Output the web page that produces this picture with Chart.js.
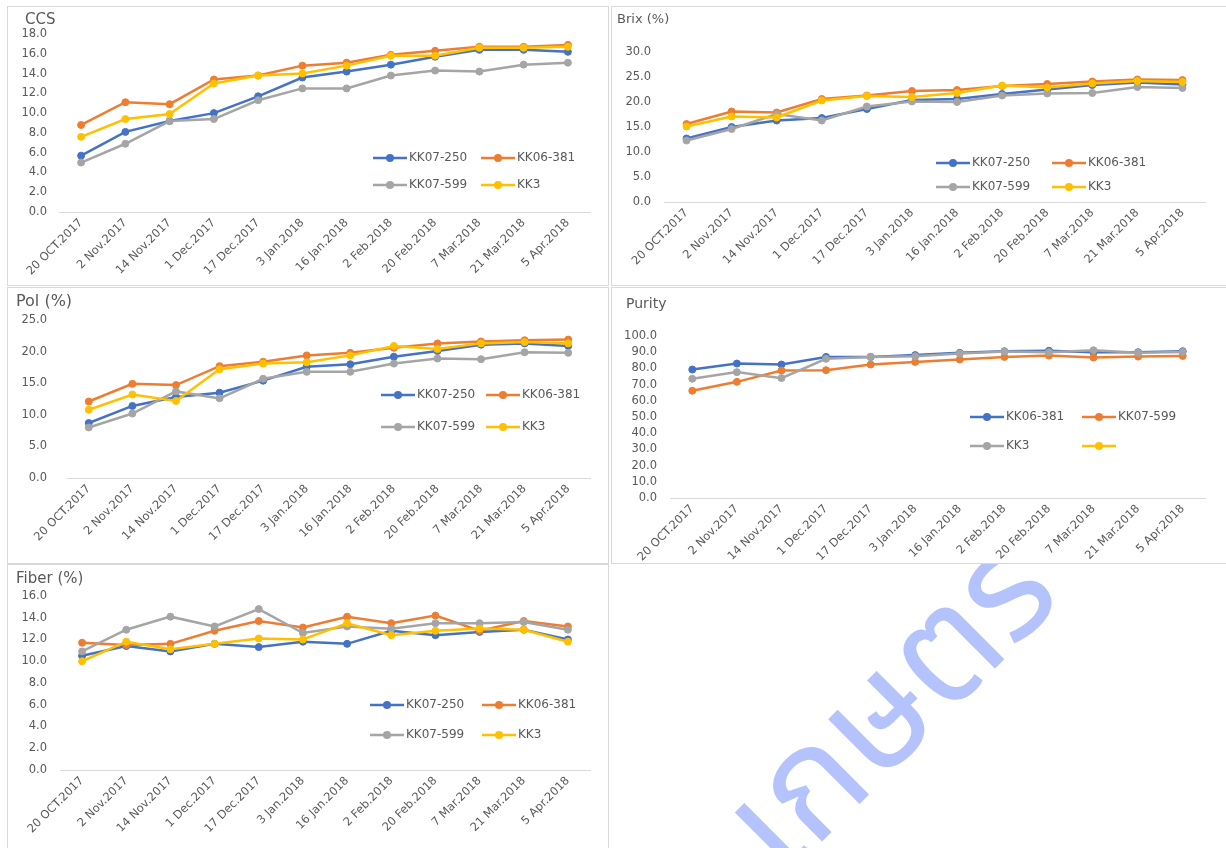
<!DOCTYPE html>
<html>
<head>
<meta charset="utf-8">
<script src="https://cdn.jsdelivr.net/npm/chart.js@4.4.0/dist/chart.umd.min.js"></script>
<style>
  body { margin: 0; width: 1226px; height: 848px; overflow: hidden; background: #fff; position: relative; font-family: 'DejaVu Sans', sans-serif; }
  .panel { position: absolute; border: 1px solid #d9d9d9; background: #fff; z-index: 1; overflow: hidden; }
  .panel canvas { position: absolute; left: 0; top: 0; }
  #mark { position: absolute; left: 892px; top: 708px; z-index: 0; color: #b4c3fb; font-size: 150px; line-height: 1;
          font-family: 'Noto Sans Thai', 'Noto Sans Thai UI', 'Sarabun', 'Prompt', 'Kanit', sans-serif;
          white-space: nowrap; transform: translate(-50%, -50%) rotate(-45deg); }
</style>
</head>
<body>
<div id="mark">เกษตร</div>
<div class="panel" style="left:7px;top:6px;width:600px;height:278px"><canvas id="ccs" width="600" height="278"></canvas></div>
<div class="panel" style="left:611px;top:6px;width:616px;height:278px"><canvas id="brix" width="614" height="278"></canvas></div>
<div class="panel" style="left:7px;top:287px;width:600px;height:275px"><canvas id="pol" width="600" height="275"></canvas></div>
<div class="panel" style="left:611px;top:287px;width:616px;height:275px"><canvas id="purity" width="614" height="275"></canvas></div>
<div class="panel" style="left:7px;top:564px;width:600px;height:290px"><canvas id="fiber" width="600" height="283"></canvas></div>
<script>
const dates = ['20 OCT.2017', '2 Nov.2017', '14 Nov.2017', '1 Dec.2017', '17 Dec.2017', '3 Jan.2018',
               '16 Jan.2018', '2 Feb.2018', '20 Feb.2018', '7 Mar.2018', '21 Mar.2018', '5 Apr.2018'];

// CCS
const ccs250 = [5.7, 8.1, 9.2, 10.0, 11.7, 13.6, 14.2, 14.9, 15.7, 16.4, 16.4, 16.2];
const ccs381 = [8.8, 11.1, 10.9, 13.4, 13.8, 14.8, 15.1, 15.9, 16.3, 16.7, 16.7, 16.9];
const ccs599 = [5.0, 6.9, 9.2, 9.4, 11.3, 12.5, 12.5, 13.8, 14.3, 14.2, 14.9, 15.1];
const ccsKK3 = [7.6, 9.4, 9.9, 13.0, 13.8, 14.0, 14.8, 15.8, 15.8, 16.6, 16.6, 16.7];

// Brix (%)
const brix250 = [12.7, 15.0, 16.3, 16.8, 18.6, 20.4, 20.6, 21.6, 22.5, 23.4, 23.9, 23.5];
const brix381 = [15.6, 18.1, 17.9, 20.6, 21.3, 22.2, 22.4, 23.2, 23.6, 24.1, 24.5, 24.4];
const brix599 = [12.3, 14.6, 17.6, 16.3, 19.1, 20.1, 20.0, 21.3, 21.7, 21.8, 23.0, 22.8];
const brixKK3 = [15.1, 17.1, 16.9, 20.3, 21.2, 21.0, 21.8, 23.3, 22.9, 23.7, 24.2, 24.0];

// Pol (%)
const pol250 = [8.7, 11.4, 12.8, 13.5, 15.4, 17.6, 18.0, 19.2, 20.1, 21.1, 21.3, 20.9];
const pol381 = [12.1, 14.9, 14.7, 17.7, 18.4, 19.4, 19.8, 20.6, 21.3, 21.6, 21.8, 21.9];
const pol599 = [8.0, 10.2, 13.7, 12.6, 15.7, 16.8, 16.8, 18.1, 18.9, 18.8, 19.9, 19.8];
const polKK3 = [10.8, 13.2, 12.2, 17.2, 18.1, 18.3, 19.4, 20.9, 20.4, 21.3, 21.5, 21.3];

// Purity (legend names as printed on the chart)
const purity381 = [79.3, 83.0, 82.4, 87.1, 87.1, 88.2, 89.6, 90.6, 90.9, 90.0, 90.0, 90.6];
const purity599 = [66.2, 71.7, 78.7, 78.9, 82.4, 84.0, 85.5, 87.1, 87.9, 86.7, 87.3, 87.7];
const purityKK3 = [73.6, 77.7, 74.0, 85.9, 87.1, 87.5, 89.2, 90.4, 90.0, 91.2, 89.6, 90.2];
const purityBlank = [];

// Fiber (%)
const fiber250 = [10.5, 11.4, 10.9, 11.6, 11.3, 11.8, 11.6, 12.8, 12.4, 12.7, 12.9, 12.0];
const fiber381 = [11.7, 11.5, 11.6, 12.8, 13.7, 13.1, 14.1, 13.5, 14.2, 12.8, 13.7, 13.2];
const fiber599 = [10.9, 12.9, 14.1, 13.2, 14.8, 12.6, 13.2, 13.0, 13.5, 13.5, 13.6, 12.9];
const fiberKK3 = [10.0, 11.8, 11.1, 11.6, 12.1, 12.0, 13.5, 12.4, 12.8, 13.0, 12.9, 11.8];

const BLUE = '#4472c4', ORANGE = '#ed7d31', GRAY = '#a5a5a5', GOLD = '#ffc000';
const TEXT = '#595959';

function series(label, data, color, order) {
    return {
        label: label,
        data: data,
        borderColor: color,
        backgroundColor: color,
        borderWidth: 2.5,
        pointRadius: 3.5,
        pointBackgroundColor: color,
        pointBorderColor: color,
        pointBorderWidth: 1,
        tension: 0,
        order: order
    };
}

// two-row legend drawn inside the plot, like the Excel one
const gridLegend = {
    id: 'gridLegend',
    afterDraw(chart, args, opts) {
        const ctx = chart.ctx;
        ctx.save();
        ctx.font = '12px "DejaVu Sans"';
        ctx.textBaseline = 'middle';
        chart.data.datasets.forEach((ds, i) => {
            const x = opts.x + (i % 2) * opts.colGap;
            const y = opts.y + Math.floor(i / 2) * opts.rowGap;
            ctx.strokeStyle = ds.borderColor;
            ctx.lineWidth = 2.5;
            ctx.beginPath();
            ctx.moveTo(x, y);
            ctx.lineTo(x + 34, y);
            ctx.stroke();
            ctx.fillStyle = ds.borderColor;
            ctx.beginPath();
            ctx.arc(x + 17, y, 4, 0, Math.PI * 2);
            ctx.fill();
            ctx.fillStyle = TEXT;
            ctx.fillText(ds.label, x + 36, y);
        });
        ctx.restore();
    }
};

// panel title in the top-left corner (the built-in title can't be offset sideways)
const panelTitle = {
    id: 'panelTitle',
    afterDraw(chart, args, opts) {
        const ctx = chart.ctx;
        ctx.save();
        ctx.font = opts.size + 'px "DejaVu Sans"';
        ctx.fillStyle = TEXT;
        ctx.textBaseline = 'middle';
        ctx.fillText(opts.text, opts.x, opts.y);
        ctx.restore();
    }
};

function makeChart(id, c) {
    new Chart(document.getElementById(id), {
        type: 'line',
        data: { labels: dates, datasets: c.datasets },
        options: {
            responsive: false,
            animation: false,
            layout: { padding: { left: 0, right: c.padRight, top: c.top, bottom: 0 } },
            plugins: {
                legend: { display: false },
                tooltip: { enabled: false },
                title: { display: false },
                panelTitle: c.title,
                gridLegend: c.legend
            },
            scales: {
                x: {
                    offset: true,
                    grid: { display: false, drawTicks: false },
                    border: { display: true, color: '#d9d9d9', width: 1 },
                    ticks: {
                        autoSkip: false, maxRotation: 45, minRotation: 45, padding: 4,
                        color: TEXT, font: { family: 'DejaVu Sans', size: 11.5 }
                    },
                    afterFit: s => { s.height = c.xHeight; }
                },
                y: {
                    min: 0, max: c.yMax,
                    grid: { display: false, drawTicks: false },
                    border: { display: false },
                    ticks: {
                        stepSize: c.yStep, padding: c.yPad, autoSkip: false,
                        color: TEXT, font: { family: 'DejaVu Sans', size: 11.5 },
                        callback: v => v.toFixed(1)
                    },
                    afterFit: s => { s.width = c.left; }
                }
            }
        },
        plugins: [gridLegend, panelTitle]
    });
}

makeChart('ccs', {
    title: { text: 'CCS', size: 15, x: 17, y: 13 },
    top: 27, left: 51, padRight: 18, yPad: 12, xHeight: 73,
    yMax: 18, yStep: 2,
    legend: { x: 365, y: 151, colGap: 108, rowGap: 27 },
    datasets: [
        series('KK07-250', ccs250, BLUE, 4),
        series('KK06-381', ccs381, ORANGE, 3),
        series('KK07-599', ccs599, GRAY, 2),
        series('KK3', ccsKK3, GOLD, 1)
    ]
});

makeChart('brix', {
    title: { text: 'Brix (%)', size: 13, x: 5, y: 13 },
    top: 45, left: 52, padRight: 21, yPad: 13, xHeight: 83,
    yMax: 30, yStep: 5,
    legend: { x: 324, y: 156, colGap: 116, rowGap: 24 },
    datasets: [
        series('KK07-250', brix250, BLUE, 4),
        series('KK06-381', brix381, ORANGE, 3),
        series('KK07-599', brix599, GRAY, 2),
        series('KK3', brixKK3, GOLD, 1)
    ]
});

makeChart('pol', {
    title: { text: 'Pol (%)', size: 16, x: 8, y: 14 },
    top: 32, left: 59, padRight: 18, yPad: 20, xHeight: 85,
    yMax: 25, yStep: 5,
    legend: { x: 373, y: 107, colGap: 105, rowGap: 32 },
    datasets: [
        series('KK07-250', pol250, BLUE, 4),
        series('KK06-381', pol381, ORANGE, 3),
        series('KK07-599', pol599, GRAY, 2),
        series('KK3', polKK3, GOLD, 1)
    ]
});

makeChart('purity', {
    title: { text: 'Purity', size: 14, x: 14, y: 16 },
    top: 48, left: 58, padRight: 21, yPad: 13, xHeight: 65,
    yMax: 100, yStep: 10,
    legend: { x: 358, y: 129, colGap: 112, rowGap: 29 },
    datasets: [
        series('KK06-381', purity381, BLUE, 4),
        series('KK07-599', purity599, ORANGE, 3),
        series('KK3', purityKK3, GRAY, 2),
        series('', purityBlank, GOLD, 1)
    ]
});

makeChart('fiber', {
    title: { text: 'Fiber (%)', size: 15, x: 8, y: 14 },
    top: 31, left: 52, padRight: 18, yPad: 13, xHeight: 78,
    yMax: 16, yStep: 2,
    legend: { x: 362, y: 140, colGap: 112, rowGap: 30 },
    datasets: [
        series('KK07-250', fiber250, BLUE, 4),
        series('KK06-381', fiber381, ORANGE, 3),
        series('KK07-599', fiber599, GRAY, 2),
        series('KK3', fiberKK3, GOLD, 1)
    ]
});
</script>
</body>
</html>
